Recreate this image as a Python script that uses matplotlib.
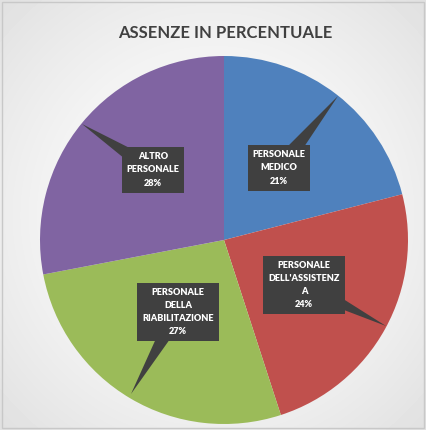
import numpy as np
import matplotlib.pyplot as plt

categories = ["PERSONALE\nMEDICO", "PERSONALE\nDELL'ASSISTENZ\nA",
              "PERSONALE\nDELLA\nRIABILITAZIONE", "ALTRO\nPERSONALE"]
values = [21, 24, 27, 28]
colors = ["#4f81bd", "#c0504d", "#9bbb59", "#8064a2"]

W, H = 426, 430
cx, cy, r = 224, 190, 184

fig = plt.figure(figsize=(W / 100, H / 100), dpi=100)
ax = fig.add_axes([0, 0, 1, 1])

# soft grey background with a light centre
yy, xx = np.mgrid[0:H, 0:W]
d = np.sqrt(((xx - W / 2) / W) ** 2 + ((yy - H / 2) / H) ** 2)
bg = 1.0 - 0.12 * np.clip(d / 0.7, 0, 1) ** 1.5
ax.imshow(bg, cmap="gray", vmin=0, vmax=1, extent=(0, W, 0, H), zorder=0)
ax.add_patch(plt.Rectangle((2, 2), W - 4, H - 4, fill=False, ec="#c8c8c8", lw=1, zorder=1))

ax.pie(values, colors=colors, startangle=90, counterclock=False,
       center=(cx, cy), radius=r, frame=True,
       wedgeprops=dict(linewidth=0, zorder=2))
ax.set_xlim(0, W)
ax.set_ylim(0, H)
ax.set_aspect("equal")
ax.axis("off")

# label box centres and tail tips (pixel coordinates from top)
boxes = [(279, 168), (304, 285), (178, 312), (153, 170)]
tips = [(338, 96), (386, 326), (131, 394), (82, 124)]

for cat, v, (bx, by), (tx, ty) in zip(categories, values, boxes, tips):
    ax.annotate(f"{cat}\n{v}%", xy=(tx, H - ty), xytext=(bx, H - by),
                ha="center", va="center", color="white", fontsize=6.6,
                fontweight="heavy", family="Lato", linespacing=1.6,
                bbox=dict(boxstyle="square,pad=0.55", fc="#404040", ec="none"),
                arrowprops=dict(arrowstyle="wedge,tail_width=2.0,shrink_factor=0.5",
                                fc="#404040", ec="none", patchA=None,
                                shrinkA=0, shrinkB=0),
                zorder=5)

ax.text(W / 2 + 12, H - 33, "ASSENZE IN PERCENTUALE", ha="center", va="center",
        fontsize=12, fontweight="bold", family="Lato", color="#404040")

fig.savefig("out.png", dpi=100)
